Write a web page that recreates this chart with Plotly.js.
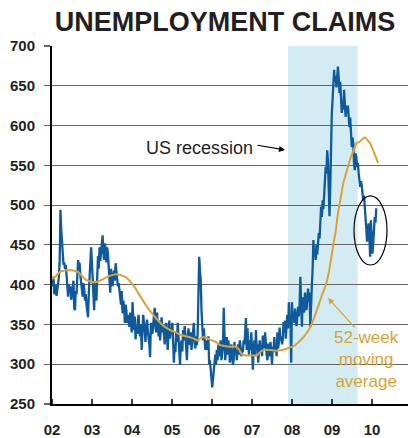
<!DOCTYPE html>
<html>
<head>
<meta charset="utf-8">
<script src="https://cdn.plot.ly/plotly-3.0.1.min.js"></script>
<style>
  html, body { margin: 0; padding: 0; background: #fff; }
  #chart { width: 409px; height: 438px; }
</style>
</head>
<body>
<div id="chart"></div>
<script>
// Weekly initial jobless claims (thousands), first week of 2002 onward
const claims2002 = [405, 398, 410, 388, 392, 400, 386, 395, 402, 410,
  430, 494, 470, 452, 438, 425, 428, 420, 425, 410,
  398, 385, 400, 392, 398, 381, 388, 396, 405, 370,
  368, 392, 388, 410, 431, 425, 427, 412, 405, 395,
  385, 402, 395, 380, 388, 375, 368, 359, 390, 405,
  425, 447];
const claims2003 = [430, 415, 388, 368, 402, 395, 380, 410, 436, 420,
  447, 430, 445, 452, 462, 440, 431, 452, 445, 428,
  447, 438, 423, 405, 390, 420, 412, 398, 410, 418,
  405, 427, 416, 405, 398, 402, 390, 378, 375, 392,
  364, 380, 372, 352, 375, 368, 352, 362, 355, 347,
  365, 352];
const claims2004 = [340, 378, 350, 343, 360, 331, 349, 338, 355, 362,
  340, 335, 350, 318, 345, 362, 352, 340, 328, 348,
  356, 342, 336, 325, 309, 352, 344, 338, 350, 358,
  371, 346, 340, 365, 348, 335, 355, 330, 345, 359,
  340, 350, 338, 325, 345, 352, 335, 318, 340, 355,
  332, 345];
const claims2005 = [338, 352, 330, 302, 325, 315, 340, 328, 352, 335,
  318, 299, 325, 330, 316, 343, 330, 348, 337, 320,
  305, 330, 345, 337, 324, 340, 318, 330, 344, 352,
  328, 320, 335, 324, 338, 372, 435, 418, 406, 368,
  355, 330, 345, 325, 318, 330, 322, 318, 335, 300,
  305, 290];
const claims2006 = [284, 271, 281, 293, 305, 312, 300, 318, 305, 325,
  310, 318, 330, 305, 315, 322, 371, 318, 305, 320,
  334, 312, 330, 320, 302, 315, 325, 310, 299, 305,
  328, 315, 320, 305, 318, 325, 312, 330, 322, 310,
  320, 315, 330, 325, 340, 358, 318, 345, 325, 312,
  330, 318];
const claims2007 = [340, 312, 293, 318, 330, 310, 343, 320, 325, 302,
  315, 330, 318, 322, 310, 336, 325, 320, 340, 315,
  312, 305, 326, 318, 310, 328, 315, 300, 322, 318,
  334, 315, 325, 310, 340, 320, 328, 346, 330, 335,
  325, 330, 353, 340, 355, 332, 348, 362, 345, 378,
  355, 362];
const claims2008 = [302, 378, 356, 365, 352, 370, 356, 348, 360, 372,
  360, 375, 410, 380, 347, 384, 372, 365, 390, 375,
  368, 380, 395, 378, 390, 347, 389, 400, 420, 456,
  435, 445, 431, 450, 438, 452, 465, 458, 480, 498,
  485, 506, 495, 512, 530, 548, 540, 569, 555, 490,
  486, 524];
const claims2009 = [598, 615, 632, 650, 670, 655, 662, 648, 670, 674,
  660, 641, 655, 630, 616, 628, 620, 645, 632, 611,
  625, 615, 625, 605, 598, 610, 590, 573, 585, 578,
  552, 544, 565, 560, 548, 553, 540, 528, 523, 530,
  525, 515, 506, 512, 492, 481, 470, 454, 468, 477,
  460, 435];
const claims2010 = [481, 462, 439, 452, 470, 485, 478, 496];

// 52-week moving average (thousands)
const maYears = [2002.0, 2002.1, 2002.2, 2002.35, 2002.5, 2002.65, 2002.75, 2002.85, 2002.95,
  2003.05, 2003.15, 2003.28, 2003.4, 2003.5, 2003.6, 2003.72, 2003.82, 2003.92,
  2004.0, 2004.08, 2004.15, 2004.25, 2004.35, 2004.45, 2004.55, 2004.65, 2004.75, 2004.85, 2004.95,
  2005.1, 2005.2, 2005.35, 2005.45, 2005.55, 2005.65, 2005.72, 2005.8, 2005.9,
  2006.0, 2006.1, 2006.2, 2006.3, 2006.45, 2006.6, 2006.68, 2006.75, 2006.85,
  2007.0, 2007.12, 2007.2, 2007.3, 2007.45, 2007.6, 2007.75, 2007.9,
  2008.05, 2008.15, 2008.25, 2008.35, 2008.45, 2008.55, 2008.65, 2008.75, 2008.83, 2008.92,
  2009.0, 2009.1, 2009.15, 2009.22, 2009.28, 2009.38, 2009.45, 2009.55, 2009.62, 2009.7,
  2009.78, 2009.83, 2009.9, 2009.97, 2010.05, 2010.1, 2010.15];
const maValues = [407, 411, 416, 418, 418, 416, 411, 406, 404,
  403, 404, 407, 410, 412, 413, 412, 410, 406,
  401, 396, 390, 382, 374, 367, 361, 355, 350, 346, 343,
  340, 337, 335, 334, 332, 330, 333, 334, 332,
  330, 328, 324, 323, 322, 322, 318, 312, 311,
  311, 311, 315, 318, 318, 317, 318, 320,
  323, 327, 332, 338, 346, 358, 372, 387, 397, 415,
  440, 470, 490, 510, 527, 545, 557, 570, 578, 580,
  584, 585, 581, 576, 566, 560, 553];

// Axis ticks
const yearTicks = [2002, 2003, 2004, 2005, 2006, 2007, 2008, 2009, 2010];
const yearLabels = ['02', '03', '04', '05', '06', '07', '08', '09', '10'];

// Recession period (decimal years)
const recessionStart = 2007.9;
const recessionEnd = 2009.64;

const claims = [].concat(claims2002, claims2003, claims2004, claims2005,
  claims2006, claims2007, claims2008, claims2009, claims2010);
const weekYears = claims.map((_, i) => 2002 + i * 7 / 365.25);

const BLUE = '#0f5a9c';
const GOLD = '#d8a334';
const FONT = 'Liberation Sans, Arial, Helvetica, sans-serif';

const traces = [
  {
    x: weekYears, y: claims, type: 'scatter', mode: 'lines',
    line: { color: BLUE, width: 2.3 }, hoverinfo: 'skip'
  },
  {
    x: maYears, y: maValues, type: 'scatter', mode: 'lines',
    line: { color: GOLD, width: 2, shape: 'spline', smoothing: 0.6 }, hoverinfo: 'skip'
  }
];

// Year tick marks crossing the x axis line
const tickShapes = yearTicks.map(t => ({
  type: 'line', xref: 'x', yref: 'y', ysizemode: 'pixel', yanchor: 250,
  x0: t, x1: t, y0: -5, y1: 5, line: { color: '#000', width: 1.5 }, layer: 'above'
}));

const layout = {
  width: 409, height: 438,
  margin: { l: 52, r: 1, t: 46, b: 34 },
  paper_bgcolor: '#fff', plot_bgcolor: '#fff',
  showlegend: false,
  font: { family: FONT, color: '#231f20' },
  title: {
    text: '<b>UNEMPLOYMENT CLAIMS</b>',
    font: { family: FONT, size: 27, color: '#231f20' },
    xref: 'container', yref: 'container', x: 0.55, xanchor: 'center', y: 0.95, yanchor: 'middle'
  },
  xaxis: {
    range: [2002, 2010.9], tickmode: 'array', tickvals: yearTicks, ticktext: yearLabels,
    ticks: '', showgrid: false, zeroline: false,
    showline: true, linecolor: '#000', linewidth: 2,
    tickfont: { family: FONT, size: 15, weight: 'bold', color: '#231f20' },
    ticklabelstandoff: 11, fixedrange: true
  },
  yaxis: {
    range: [250, 700], tickmode: 'linear', tick0: 250, dtick: 50,
    ticks: 'outside', ticklen: 6, tickwidth: 1.2, tickcolor: '#666',
    showgrid: true, gridcolor: '#666', gridwidth: 1.2, zeroline: false,
    showline: true, linecolor: '#000', linewidth: 2,
    tickfont: { family: FONT, size: 15, weight: 'bold', color: '#231f20' },
    ticklabelstandoff: 6, fixedrange: true
  },
  shapes: [
    {
      type: 'rect', xref: 'x', yref: 'y', x0: recessionStart, x1: recessionEnd, y0: 250, y1: 700,
      fillcolor: '#d3ecf4', line: { width: 0 }, layer: 'below'
    },
    {
      type: 'circle', xref: 'x', yref: 'y', x0: 2009.55, x1: 2010.375, y0: 424.7, y1: 511.5,
      line: { color: '#000', width: 1.2 }, layer: 'above'
    }
  ].concat(tickShapes),
  annotations: [
    {
      x: 2005.68, y: 571.8, xref: 'x', yref: 'y', text: 'US recession', showarrow: false,
      font: { family: FONT, size: 18, color: '#231f20' }
    },
    {
      x: 2007.825, y: 569.3, xref: 'x', yref: 'y', text: '', showarrow: true,
      ax: -29, ay: -5, arrowhead: 2, arrowsize: 1, arrowwidth: 1.2, arrowcolor: '#000', standoff: 0
    },
    {
      x: 2009.85, y: 306, xref: 'x', yref: 'y', text: '52-week<br>moving<br>average',
      showarrow: false, align: 'center', borderpad: 0,
      font: { family: FONT, size: 17, color: GOLD }
    },
    {
      x: 2008.9, y: 383.3, xref: 'x', yref: 'y', text: '', showarrow: true,
      ax: 28, ay: 31, arrowhead: 2, arrowsize: 1, arrowwidth: 1.2, arrowcolor: GOLD, standoff: 0
    }
  ]
};

Plotly.newPlot('chart', traces, layout, { staticPlot: true, displayModeBar: false });
</script>
</body>
</html>
